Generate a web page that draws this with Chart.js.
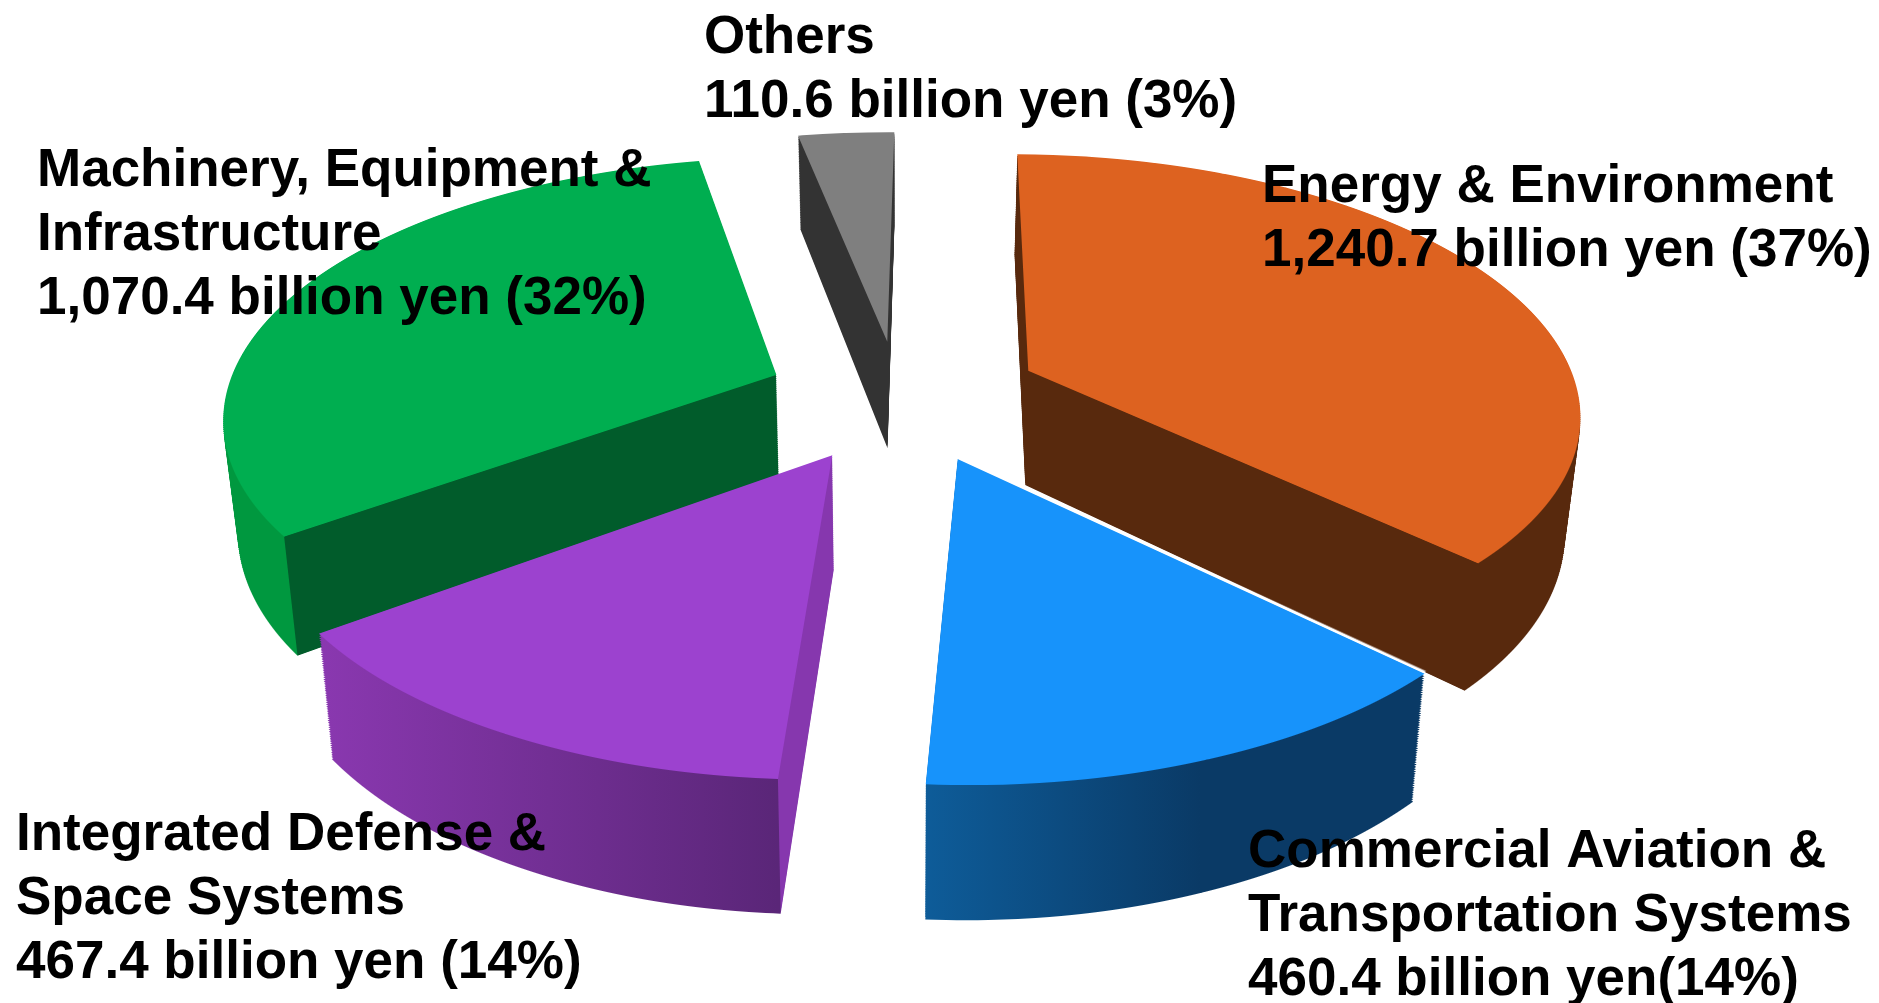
<!DOCTYPE html>
<html>
<head>
<meta charset="utf-8">
<title>Segment sales</title>
<script src="https://cdn.jsdelivr.net/npm/chart.js@4"></script>
<style>
	html, body { margin: 0; padding: 0; background: #fff; }
	canvas { display: block; }
</style>
</head>
<body>
<canvas id="mycanvas-pie" width="1879" height="1003"></canvas>
<script>
// billion yen, clockwise from the top
var categories = ["Energy & Environment", "Commercial Aviation & Transportation Systems", "Integrated Defense & Space Systems", "Machinery, Equipment & Infrastructure", "Others"];
var values = [1240.7, 460.4, 467.4, 1070.4, 110.6];
var topColors = ["#DD6220", "#1793FB", "#9C42CF", "#00AE50", "#7F7F7F"];
var explode = [0.26, 0.255, 0.255, 0.23, 0.22];
var depths = [116, 110, 110, 110, 110];
var shiftX = [1, 8, 5, -4, 1];

var labelLines = [
	["Energy & Environment", "1,240.7 billion yen (37%)"],
	["Commercial Aviation &", "Transportation Systems", "460.4 billion yen(14%)"],
	["Integrated Defense &", "Space Systems", "467.4 billion yen (14%)"],
	["Machinery, Equipment &", "Infrastructure", "1,070.4 billion yen (32%)"],
	["Others", "110.6 billion yen (3%)"]
];
var labelX = [1262, 1248, 16, 37, 704];
var labelY = [202, 867, 850, 186, 53];

// wall colours: cut = flat sides, rimFrom/rimTo = curved outer wall, left to right
var cutColors = ["#58290D", "#0A3A66", "#8637AE", "#015C2B", "#333333"];
var rimFrom = ["#58290D", "#0E5C99", "#8A38B0", "#00983F", "#333333"];
var rimTo = ["#58290D", "#0A3A66", "#5A2678", "#00983F", "#333333"];
var rimStop = [1, 0.55, 1, 1, 1];
var drawOrder = [4, 3, 0, 2, 1];

// camera for the tilted pie plane
var cam = { x0: 897, y0: 396, F: 551, G: 256, p: 0.15, taper: 0.0002 };
var W = 1879, H = 1003;

function project(X, Y, h) {
	var w = 1 - cam.p * Y;
	return { x: cam.x0 + cam.F * (1 - cam.taper * h) * X / w, y: cam.y0 + (cam.G * Y + h) / w };
}

// draw one arc on the tilted plane, row by row so the far side comes out smaller
function drawFace(ctx, arc, i, h, rowStep) {
	var mid = (arc.startAngle + arc.endAngle) / 2;
	var ex = Math.cos(mid) * explode[i];
	var ey = Math.sin(mid) * explode[i];
	var R = arc.outerRadius;
	var F = cam.F * (1 - cam.taper * h);
	var Ymin = ey, Ymax = ey;
	for (var k = 0; k <= 40; k++) {
		var a = arc.startAngle + (arc.endAngle - arc.startAngle) * k / 40;
		Ymin = Math.min(Ymin, ey + Math.sin(a));
		Ymax = Math.max(Ymax, ey + Math.sin(a));
	}
	var top = Math.floor(project(0, Ymin, h).y) - 1;
	var bottom = Math.ceil(project(0, Ymax, h).y) + 1;
	for (var row = top; row < bottom; row += rowStep) {
		var t0 = row - cam.y0, t1 = row + rowStep - cam.y0;
		var Y0 = (t0 - h) / (cam.G + cam.p * t0);
		var Y1 = (t1 - h) / (cam.G + cam.p * t1);
		var w = 1 - cam.p * (Y0 + Y1) / 2;
		var sx = F / (w * R);
		var sy = rowStep / ((Y1 - Y0) * R);
		var py0 = arc.y + (Y0 - ey) * R;
		ctx.save();
		ctx.beginPath();
		ctx.rect(0, row, W, rowStep);
		ctx.clip();
		ctx.setTransform(sx, 0, 0, sy, cam.x0 + shiftX[i] + F * ex / w - sx * arc.x, row - sy * py0);
		arc.draw(ctx);
		ctx.restore();
	}
}

var layer = document.createElement("canvas");
layer.width = W;
layer.height = H;
var layerCtx = layer.getContext("2d");

function drawWalls(ctx, arc, i) {
	var lc = layerCtx;
	var depth = depths[i];
	lc.setTransform(1, 0, 0, 1, 0, 0);
	lc.globalCompositeOperation = "source-over";
	lc.clearRect(0, 0, W, H);
	drawFace(lc, arc, i, depth, 1);
	for (var h = depth - 2; h > 0; h -= 2) {
		drawFace(lc, arc, i, h, 2);
	}
	var mid = (arc.startAngle + arc.endAngle) / 2;
	var ex = Math.cos(mid) * explode[i], ey = Math.sin(mid) * explode[i];
	var pa = project(ex + Math.cos(arc.endAngle), ey + Math.sin(arc.endAngle), 0);
	var pb = project(ex + Math.cos(arc.startAngle), ey + Math.sin(arc.startAngle), 0);
	var pc = project(ex + Math.cos(arc.startAngle), ey + Math.sin(arc.startAngle), depth);
	pa.x += shiftX[i];
	pb.x += shiftX[i];
	pc.x += shiftX[i];
	lc.globalCompositeOperation = "source-atop";
	lc.fillStyle = cutColors[i];
	lc.fillRect(0, 0, W, H);
	var g = lc.createLinearGradient(pa.x, 0, pb.x, 0);
	g.addColorStop(0, rimFrom[i]);
	g.addColorStop(rimStop[i], rimTo[i]);
	lc.fillStyle = g;
	// curved wall stops at the edge of the slice, which leans with the taper
	var lean = (pc.x - pb.x) / (pc.y - pb.y);
	lc.beginPath();
	lc.moveTo(0, 0);
	lc.lineTo(pb.x - lean * pb.y, 0);
	lc.lineTo(pb.x + lean * (H - pb.y), H);
	lc.lineTo(0, H);
	lc.closePath();
	lc.fill();
	ctx.drawImage(layer, 0, 0);
}

function drawEdgeLine(ctx, arc, i) {
	// thin white line where the blue slice sits on the orange wall
	var lc = layerCtx;
	lc.setTransform(1, 0, 0, 1, 0, 0);
	lc.globalCompositeOperation = "source-over";
	lc.clearRect(0, 0, W, H);
	drawFace(lc, arc, i, 0, 1);
	lc.globalCompositeOperation = "source-atop";
	lc.fillStyle = "#fff";
	lc.fillRect(0, 0, W, H);
	ctx.drawImage(layer, 1.5, -2.5);
}

var pie3d = {
	id: "pie3d",
	beforeDatasetsDraw: function(chart) {
		var ctx = chart.ctx;
		var arcs = chart.getDatasetMeta(0).data;
		ctx.save();
		drawOrder.forEach(function(i) {
			drawWalls(ctx, arcs[i], i);
			if (i == 1) drawEdgeLine(ctx, arcs[i], i);
			drawFace(ctx, arcs[i], i, 0, 1);
		});
		ctx.restore();
	},
	beforeDatasetDraw: function() {
		return false;
	},
	afterDraw: function(chart) {
		var ctx = chart.ctx;
		ctx.save();
		ctx.fillStyle = "#000";
		ctx.font = "bold 53px 'Liberation Sans'";
		ctx.textAlign = "left";
		ctx.textBaseline = "alphabetic";
		labelLines.forEach(function(lines, i) {
			lines.forEach(function(line, n) {
				ctx.fillText(line, labelX[i], labelY[i] + n * 64);
			});
		});
		ctx.restore();
	}
};

var ctx = document.getElementById("mycanvas-pie").getContext("2d");
var PieGraph = new Chart(ctx, {
	type: "pie",
	data: {
		labels: categories,
		datasets: [{
			data: values,
			backgroundColor: topColors,
			borderWidth: 0,
			radius: 300
		}]
	},
	options: {
		responsive: false,
		animation: false,
		events: [],
		rotation: 0.7,
		plugins: {
			legend: { display: false },
			tooltip: { enabled: false }
		}
	},
	plugins: [pie3d]
});
</script>
</body>
</html>
